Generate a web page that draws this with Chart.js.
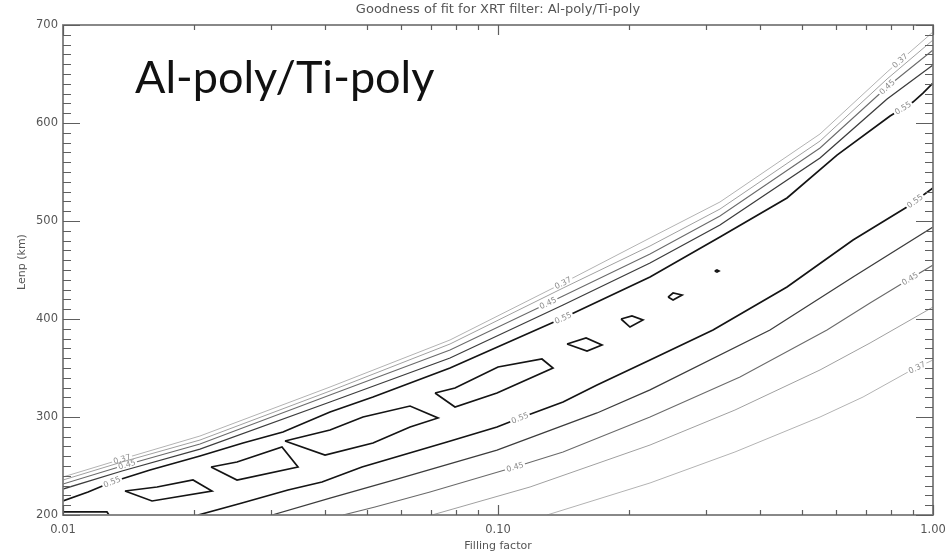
<!DOCTYPE html>
<html>
<head>
<meta charset="utf-8">
<script src="https://cdn.jsdelivr.net/npm/chart.js@4.4.1/dist/chart.umd.min.js"></script>
<style>
  html, body { margin: 0; padding: 0; background: #fff; overflow: hidden; }
  canvas { display: block; }
</style>
</head>
<body>
<canvas id="chart" width="949" height="551"></canvas>
<script>
// Contour lines of the goodness-of-fit map: [filling factor, Lenp (km)]
const lvl037Upper = [[0.0100,238.8],[0.01367,257.1],[0.02065,280.6],[0.0411,330.6],[0.07757,378.6],[0.1411,436.7],[0.2236,482.7],[0.3238,519.4],[0.5499,588.8],[0.7842,652.0],[1.0,692.9]];
const lvl041Upper = [[0.0100,235.7],[0.01367,254.1],[0.02065,276.5],[0.0411,326.5],[0.07757,374.5],[0.1411,431.6],[0.2236,474.5],[0.3238,512.2],[0.5499,581.6],[0.7842,644.9],[1.0,684.7]];
const lvl045Upper = [[0.0100,231.6],[0.01367,250.0],[0.02065,272.4],[0.0411,322.4],[0.07757,368.4],[0.1411,423.5],[0.2236,466.3],[0.3238,505.1],[0.5499,574.5],[0.7842,636.7],[1.0,674.5]];
const lvl050Upper = [[0.0100,226.5],[0.01367,244.9],[0.02065,267.3],[0.0411,315.3],[0.07757,360.2],[0.1411,414.3],[0.2236,457.1],[0.3238,495.9],[0.5499,564.3],[0.7842,624.5],[1.0,659.2]];
const lvl055Upper = [[0.0100,214.3],[0.01142,223.5],[0.01296,233.7],[0.01585,245.9],[0.02065,260.2],[0.02593,273.5],[0.03204,284.7],[0.0411,305.1],[0.0516,320.4],[0.07757,350.0],[0.1411,401.0],[0.2236,442.9],[0.3238,483.7],[0.4617,523.5],[0.6016,567.3],[0.7967,607.1],[0.8995,621.4],[0.9484,630.6],[1.0,640.8]];

const lvl055Lower = [[0.02044,200.0],[0.02579,212.2],[0.0329,225.5],[0.03939,233.7],[0.04868,249.0],[0.07635,274.5],[0.09947,289.8],[0.1123,299.0],[0.1411,315.3],[0.1689,332.7],[0.2236,358.2],[0.3121,388.8],[0.4617,432.7],[0.6549,480.6],[0.8714,514.3],[1.0,533.7]];
const lvl050Lower = [[0.03023,200.0],[0.0411,217.3],[0.0586,236.7],[0.09947,266.3],[0.1689,304.1],[0.2236,327.6],[0.422,388.8],[0.6549,442.9],[1.0,493.9]];
const lvl045Lower = [[0.04403,200.0],[0.05215,208.2],[0.06978,223.5],[0.1094,249.0],[0.1411,264.3],[0.2236,300.0],[0.36,340.8],[0.5706,388.8],[0.7166,416.3],[0.853,436.7],[1.0,455.1]];
const lvl041Lower = [[0.07052,200.0],[0.1185,228.6],[0.2236,271.4],[0.3505,307.1],[0.5499,348.0],[0.7166,375.5],[1.0,412.2]];
const lvl037Lower = [[0.1296,200.0],[0.2236,232.7],[0.3505,264.3],[0.5499,300.0],[0.6905,320.4],[0.876,345.9],[1.0,358.2]];

// Closed contours of the best-fit ridge
const lvl060Corner  = [[0.0100,203.1],[0.01262,203.1],[0.01276,200.0]];
const lvl060Island1 = [[0.01388,224.5],[0.01602,214.3],[0.0220,224.5],[0.0199,235.7],[0.01645,228.6],[0.01388,224.5]];
const lvl060Island2 = [[0.02189,249.0],[0.02512,235.7],[0.03469,249.0],[0.03187,269.4],[0.02512,254.1],[0.02189,249.0]];
const lvl060Island3 = [[0.03238,275.5],[0.04003,261.2],[0.0516,273.5],[0.06278,289.8],[0.0728,299.0],[0.06278,311.2],[0.04894,300.0],[0.0411,286.7],[0.03238,275.5]];
const lvl060Island4 = [[0.07165,324.5],[0.07964,310.2],[0.09947,324.5],[0.1338,350.0],[0.1262,359.2],[0.1,351.0],[0.07964,329.6],[0.07165,324.5]];
const lvl060Island5 = [[0.1441,374.5],[0.1602,367.3],[0.1734,373.5],[0.1594,380.6],[0.1441,374.5]];
const lvl060Island6 = [[0.1918,400.0],[0.2011,391.8],[0.2154,399.0],[0.2032,403.1],[0.1918,400.0]];
const lvl060Island7 = [[0.246,422.4],[0.2526,419.4],[0.2649,424.5],[0.2526,426.5],[0.246,422.4]];
const lvl060Dot     = [[0.315,449.0],[0.3187,448.0],[0.322,449.0],[0.3187,450.0],[0.315,449.0]];

// Axis ticks and labels
const xMajorTicks = [0.01, 0.1, 1];
const xTickLabels = ['0.01', '0.10', '1.00'];
const xMinorTicks = [0.02,0.03,0.04,0.05,0.06,0.07,0.08,0.09,0.2,0.3,0.4,0.5,0.6,0.7,0.8,0.9];
const yMajorTicks = [200, 300, 400, 500, 600, 700];
const yTickLabels = ['200', '300', '400', '500', '600', '700'];
const yMinorStep = 10;

const titleText = 'Goodness of fit for XRT filter: Al-poly/Ti-poly';
const xTitle = 'Filling factor';
const yTitle = 'Lenp (km)';
const panelTag = 'Al-poly/Ti-poly';

// Line style per contour level
const levelStyle = {
  '0.37': { color: '#b3b3b3', width: 1.0 },
  '0.41': { color: '#a0a0a0', width: 1.0 },
  '0.45': { color: '#6a6a6a', width: 1.1 },
  '0.50': { color: '#3c3c3c', width: 1.3 },
  '0.55': { color: '#141414', width: 1.7 },
  '0.60': { color: '#141414', width: 1.7 }
};

const contours = [
  { level: 0.37, pts: lvl037Upper, labels: [0.01367, 0.1411, 0.8397] },
  { level: 0.41, pts: lvl041Upper, labels: [] },
  { level: 0.45, pts: lvl045Upper, labels: [0.01403, 0.1303, 0.7842] },
  { level: 0.50, pts: lvl050Upper, labels: [] },
  { level: 0.55, pts: lvl055Upper, labels: [0.01296, 0.1411, 0.853] },
  { level: 0.55, pts: lvl055Lower, labels: [0.1123, 0.9091] },
  { level: 0.50, pts: lvl050Lower, labels: [] },
  { level: 0.45, pts: lvl045Lower, labels: [0.1094, 0.8853] },
  { level: 0.41, pts: lvl041Lower, labels: [] },
  { level: 0.37, pts: lvl037Lower, labels: [0.9188] },
  { level: 0.60, pts: lvl060Corner, labels: [] },
  { level: 0.60, pts: lvl060Island1, labels: [] },
  { level: 0.60, pts: lvl060Island2, labels: [] },
  { level: 0.60, pts: lvl060Island3, labels: [] },
  { level: 0.60, pts: lvl060Island4, labels: [] },
  { level: 0.60, pts: lvl060Island5, labels: [] },
  { level: 0.60, pts: lvl060Island6, labels: [] },
  { level: 0.60, pts: lvl060Island7, labels: [] },
  { level: 0.60, pts: lvl060Dot, labels: [] }
];

const datasets = contours.map(c => {
  const st = levelStyle[c.level.toFixed(2)];
  return {
    data: c.pts.map(p => ({ x: p[0], y: p[1] })),
    showLine: true,
    pointRadius: 0,
    pointHoverRadius: 0,
    borderColor: st.color,
    borderWidth: st.width,
    fill: false,
    tension: 0,
    level: c.level,
    contourLabels: c.labels
  };
});

// Inline level labels, IDL-style frame with inward ticks, and text
const idlFrame = {
  id: 'idlFrame',
  afterDatasetsDraw(chart) {
    const { ctx, chartArea: a, scales: { x, y } } = chart;
    ctx.save();

    // level labels sitting in a gap of their own line
    ctx.font = '8px "DejaVu Sans"';
    ctx.textAlign = 'center';
    ctx.textBaseline = 'middle';
    chart.data.datasets.forEach((ds, i) => {
      const pts = chart.getDatasetMeta(i).data;
      ds.contourLabels.forEach(fx => {
        const px = x.getPixelForValue(fx);
        for (let k = 0; k < pts.length - 1; k++) {
          const p0 = pts[k], p1 = pts[k + 1];
          if (px >= p0.x && px <= p1.x) {
            const t = (px - p0.x) / (p1.x - p0.x);
            const py = p0.y + t * (p1.y - p0.y);
            const ang = Math.atan2(p1.y - p0.y, p1.x - p0.x);
            const txt = ds.level.toFixed(2);
            const w = ctx.measureText(txt).width;
            ctx.save();
            ctx.translate(px, py);
            ctx.rotate(ang);
            ctx.fillStyle = '#ffffff';
            ctx.fillRect(-w / 2 - 1.5, -ds.borderWidth / 2 - 1, w + 3, ds.borderWidth + 2);
            ctx.fillStyle = '#8c8c8c';
            ctx.fillText(txt, 0, 0.5);
            ctx.restore();
            break;
          }
        }
      });
    });

    // frame
    ctx.strokeStyle = '#7c7c7c';
    ctx.lineWidth = 1.8;
    ctx.strokeRect(a.left, a.top, a.right - a.left, a.bottom - a.top);

    // ticks (drawn inward on all four sides)
    ctx.strokeStyle = '#5e5e5e';
    ctx.lineWidth = 1.2;
    const xLenMajor = 10, xLenMinor = 5, yLenMajor = 17, yLenMinor = 8;
    ctx.beginPath();
    const xTick = (v, len) => {
      const px = Math.round(x.getPixelForValue(v)) + 0.5;
      ctx.moveTo(px, a.bottom); ctx.lineTo(px, a.bottom - len);
      ctx.moveTo(px, a.top); ctx.lineTo(px, a.top + len);
    };
    xMajorTicks.forEach(v => xTick(v, xLenMajor));
    xMinorTicks.forEach(v => xTick(v, xLenMinor));
    const yMin = yMajorTicks[0], yMax = yMajorTicks[yMajorTicks.length - 1];
    for (let v = yMin; v <= yMax; v += yMinorStep) {
      const len = yMajorTicks.includes(v) ? yLenMajor : yLenMinor;
      const py = Math.round(y.getPixelForValue(v)) + 0.5;
      ctx.moveTo(a.left, py); ctx.lineTo(a.left + len, py);
      ctx.moveTo(a.right, py); ctx.lineTo(a.right - len, py);
    }
    ctx.stroke();

    // tick labels
    ctx.fillStyle = '#555555';
    ctx.font = '11.5px "DejaVu Sans"';
    ctx.textAlign = 'center';
    ctx.textBaseline = 'middle';
    xMajorTicks.forEach((v, i) => ctx.fillText(xTickLabels[i], x.getPixelForValue(v), a.bottom + 15));
    ctx.textAlign = 'right';
    yMajorTicks.forEach((v, i) => ctx.fillText(yTickLabels[i], a.left - 5, y.getPixelForValue(v)));

    // axis titles and chart title
    ctx.textAlign = 'center';
    ctx.font = '11px "DejaVu Sans"';
    ctx.fillText(xTitle, (a.left + a.right) / 2, a.bottom + 31);
    ctx.save();
    ctx.translate(22, 262);
    ctx.rotate(-Math.PI / 2);
    ctx.fillText(yTitle, 0, 0);
    ctx.restore();
    ctx.font = '13px "DejaVu Sans"';
    ctx.fillText(titleText, (a.left + a.right) / 2, 10);

    // panel tag
    ctx.fillStyle = '#111111';
    ctx.font = '45px Lato';
    ctx.textAlign = 'left';
    ctx.textBaseline = 'alphabetic';
    ctx.fillText(panelTag, 135, 93);

    ctx.restore();
  }
};

new Chart(document.getElementById('chart'), {
  type: 'scatter',
  data: { datasets },
  options: {
    responsive: false,
    animation: false,
    devicePixelRatio: 1,
    layout: { padding: { left: 63, right: 16, top: 25, bottom: 36 } },
    plugins: { legend: { display: false }, tooltip: { enabled: false }, title: { display: false } },
    events: [],
    scales: {
      x: { type: 'logarithmic', min: 0.01, max: 1, display: false },
      y: { type: 'linear', min: 200, max: 700, display: false }
    }
  },
  plugins: [idlFrame]
});
</script>
</body>
</html>
